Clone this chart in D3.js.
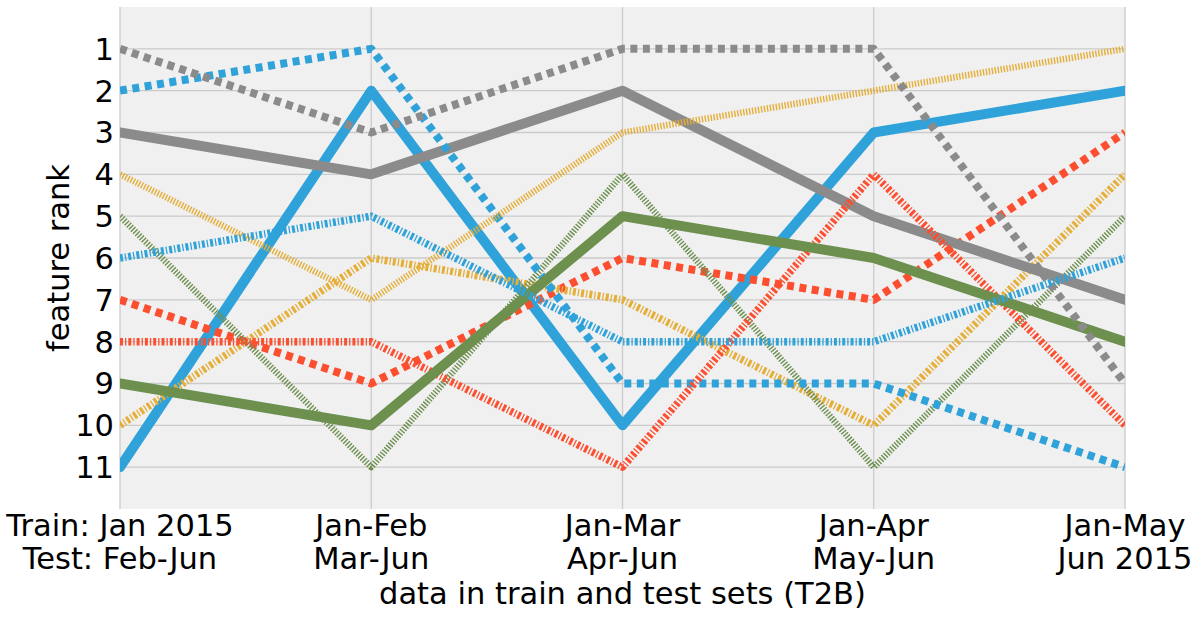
<!DOCTYPE html>
<html><head><meta charset="utf-8">
<script src="https://cdn.jsdelivr.net/npm/d3@7"></script>
<style>body{margin:0;background:#fff}text{font-family:"DejaVu Sans",sans-serif}</style>
</head><body>
<svg id="c" width="1197" height="617"></svg>
<script>
const periodsTrain = ["Train: Jan 2015","Jan-Feb","Jan-Mar","Jan-Apr","Jan-May"];
const periodsTest = ["Test: Feb-Jun","Mar-Jun","Apr-Jun","May-Jun","Jun 2015"];
const rankTicks = [1,2,3,4,5,6,7,8,9,10,11];
const seriesColors = ["#30a2da","#fc4f30","#e5ae38","#6d904f","#8b8b8b","#30a2da","#fc4f30","#e5ae38","#6d904f","#8b8b8b","#30a2da"];
const seriesStyles = ["solid","dotted","dashdot","hatch","solid","dotted","dashdot","hatch","solid","dotted","dashdot"];
const f0 = [11,2,10,3,2];
const f1 = [7,9,6,7,3];
const f2 = [10,6,7,10,4];
const f3 = [5,11,4,11,5];
const f4 = [3,4,2,5,7];
const f5 = [2,1,9,9,11];
const f6 = [8,8,11,4,10];
const f7 = [4,7,3,2,1];
const f8 = [9,10,5,6,8];
const f9 = [1,3,1,1,9];
const f10 = [6,5,8,8,6];
const series = [f0,f1,f2,f3,f4,f5,f6,f7,f8,f9,f10];

const styleDefs = {
  solid:{w:10,dash:null},
  dotted:{w:8,dash:"7,5.5"},
  dashdot:{w:7.5,dash:"3,2,1.3,2"},
  hatch:{w:6.5,dash:"1.4,1.6"}
};

const L=120,R=1125,T=7,B=509;
const FS=30.5;
const svg=d3.select("#c");
const x=d3.scaleLinear().domain([0,4]).range([L,R]);
const y=d3.scaleLinear().domain([0,12]).range([T,B]);

svg.append("rect").attr("x",L).attr("y",T).attr("width",R-L).attr("height",B-T).attr("fill","#f0f0f0");

const grid=svg.append("g");
grid.selectAll("line.h").data(rankTicks).join("line").attr("class","h")
  .attr("x1",L).attr("x2",R).attr("y1",d=>y(d)).attr("y2",d=>y(d))
  .attr("stroke","#cbcbcb").attr("stroke-width",1.3);
grid.selectAll("line.v").data(d3.range(5)).join("line").attr("class","v")
  .attr("y1",T).attr("y2",B).attr("x1",d=>x(d)).attr("x2",d=>x(d))
  .attr("stroke","#cbcbcb").attr("stroke-width",1.3);

svg.append("clipPath").attr("id","clp").append("rect").attr("x",L).attr("y",T).attr("width",R-L).attr("height",B-T);

const line=d3.line().x((d,i)=>x(i)).y(d=>y(d));
const lg=svg.append("g").attr("clip-path","url(#clp)");
series.forEach((s,k)=>{
  const st=styleDefs[seriesStyles[k]];
  const p=lg.append("path").datum(s).attr("d",line).attr("fill","none")
    .attr("stroke",seriesColors[k]).attr("stroke-width",st.w)
    .attr("stroke-linejoin","round").attr("stroke-linecap",st.dash?"butt":"round");
  if(st.dash) p.attr("stroke-dasharray",st.dash);
});

svg.append("g").selectAll("text").data(rankTicks).join("text")
  .attr("x",114).attr("y",d=>y(d)).attr("dy","0.36em").attr("text-anchor","end")
  .attr("font-size",FS).attr("fill","#000").text(d=>d);

const xt=svg.append("g");
xt.selectAll("text.a").data(periodsTrain).join("text").attr("class","a")
  .attr("x",(d,i)=>x(i)).attr("y",536).attr("text-anchor","middle").attr("font-size",FS).text(d=>d);
xt.selectAll("text.b").data(periodsTest).join("text").attr("class","b")
  .attr("x",(d,i)=>x(i)).attr("y",569).attr("text-anchor","middle").attr("font-size",FS).text(d=>d);

svg.append("text").attr("x",(L+R)/2).attr("y",604).attr("text-anchor","middle").attr("font-size",FS)
  .text("data in train and test sets (T2B)");
svg.append("text").attr("transform","translate(69,258) rotate(-90)").attr("text-anchor","middle").attr("font-size",FS)
  .text("feature rank");
</script>
</body></html>
